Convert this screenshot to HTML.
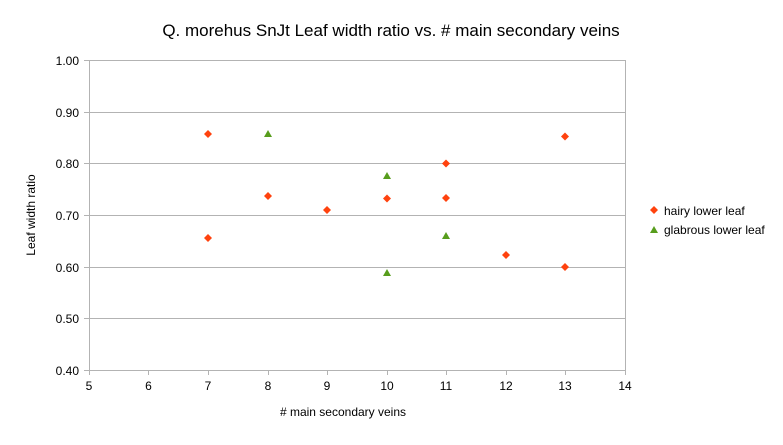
<!DOCTYPE html>
<html><head><meta charset="utf-8"><style>body{margin:0;background:#fff}</style></head>
<body>
<svg width="783" height="440" xmlns="http://www.w3.org/2000/svg" font-family="Liberation Sans, sans-serif">
<rect width="783" height="440" fill="#fff"/>
<text x="391" y="36" font-size="17" text-anchor="middle" fill="#000">Q. morehus SnJt Leaf width ratio vs. # main secondary veins</text>
<g stroke="#b3b3b3" stroke-width="1">
<line x1="89" y1="60.5" x2="625" y2="60.5"/>
<line x1="89" y1="112.5" x2="625" y2="112.5"/>
<line x1="89" y1="163.5" x2="625" y2="163.5"/>
<line x1="89" y1="215.5" x2="625" y2="215.5"/>
<line x1="89" y1="267.5" x2="625" y2="267.5"/>
<line x1="89" y1="318.5" x2="625" y2="318.5"/>
<line x1="89" y1="370.5" x2="625" y2="370.5"/>
<line x1="89.5" y1="60" x2="89.5" y2="375"/>
<line x1="625.5" y1="60" x2="625.5" y2="375"/>
<line x1="148.5" y1="370" x2="148.5" y2="375"/>
<line x1="208.5" y1="370" x2="208.5" y2="375"/>
<line x1="268.5" y1="370" x2="268.5" y2="375"/>
<line x1="327.5" y1="370" x2="327.5" y2="375"/>
<line x1="387.5" y1="370" x2="387.5" y2="375"/>
<line x1="446.5" y1="370" x2="446.5" y2="375"/>
<line x1="506.5" y1="370" x2="506.5" y2="375"/>
<line x1="565.5" y1="370" x2="565.5" y2="375"/>
<line x1="84" y1="60.5" x2="89" y2="60.5"/><line x1="84" y1="112.5" x2="89" y2="112.5"/><line x1="84" y1="163.5" x2="89" y2="163.5"/><line x1="84" y1="215.5" x2="89" y2="215.5"/><line x1="84" y1="267.5" x2="89" y2="267.5"/><line x1="84" y1="318.5" x2="89" y2="318.5"/><line x1="84" y1="370.5" x2="89" y2="370.5"/>
</g>
<g font-size="12" fill="#000" text-anchor="end">
<text x="79" y="65">1.00</text><text x="79" y="117">0.90</text><text x="79" y="168">0.80</text><text x="79" y="220">0.70</text><text x="79" y="272">0.60</text><text x="79" y="323">0.50</text><text x="79" y="375">0.40</text>
</g>
<g font-size="12" fill="#000" text-anchor="middle">
<text x="89" y="390">5</text><text x="148.5" y="390">6</text><text x="208" y="390">7</text><text x="268" y="390">8</text><text x="327" y="390">9</text><text x="387" y="390">10</text><text x="446" y="390">11</text><text x="506" y="390">12</text><text x="565" y="390">13</text><text x="625" y="390">14</text>
</g>
<text x="343" y="416" font-size="12" text-anchor="middle"># main secondary veins</text>
<text transform="translate(35,215) rotate(-90)" font-size="12" text-anchor="middle">Leaf width ratio</text>
<g fill="#ff420e">
<path d="M208 130l4 4-4 4-4-4z"/><path d="M208 234l4 4-4 4-4-4z"/><path d="M268 192l4 4-4 4-4-4z"/><path d="M327 206l4 4-4 4-4-4z"/><path d="M387 194.5l4 4-4 4-4-4z"/><path d="M446 159.5l4 4-4 4-4-4z"/><path d="M446 194l4 4-4 4-4-4z"/><path d="M506 251l4 4-4 4-4-4z"/><path d="M565 132.5l4 4-4 4-4-4z"/><path d="M565 263l4 4-4 4-4-4z"/>
<path d="M654 206l4 4-4 4-4-4z"/>
</g>
<g fill="#579d1c">
<path d="M268 130l4 7h-8z"/><path d="M387 172l4 7h-8z"/><path d="M387 269l4 7h-8z"/><path d="M446 232l4 7h-8z"/>
<path d="M654 226l4 7h-8z"/>
</g>
<text x="664" y="215" font-size="12">hairy lower leaf</text>
<text x="664" y="234" font-size="12">glabrous lower leaf</text>
</svg>
</body></html>
